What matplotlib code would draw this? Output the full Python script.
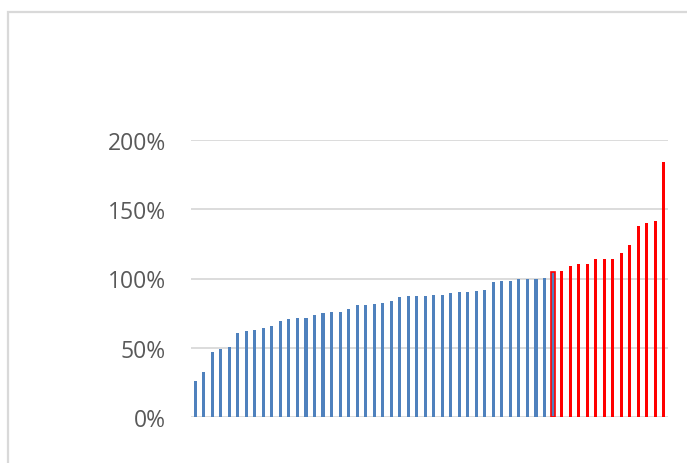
import matplotlib
matplotlib.use("Agg")
import matplotlib.pyplot as plt
from matplotlib.patches import Rectangle
from matplotlib.ticker import FuncFormatter

# Values (fraction of 1 = 100%), sorted ascending
blue_values = [0.257, 0.322, 0.472, 0.488, 0.508, 0.609, 0.621, 0.631, 0.641, 0.655,
               0.695, 0.709, 0.716, 0.716, 0.738, 0.748, 0.755, 0.757, 0.781, 0.807,
               0.812, 0.815, 0.822, 0.834, 0.868, 0.873, 0.873, 0.873, 0.882, 0.882,
               0.897, 0.904, 0.906, 0.909, 0.916, 0.976, 0.983, 0.983, 0.993, 0.998,
               1.000, 1.002]
red_values = [1.044, 1.053, 1.089, 1.104, 1.104, 1.140, 1.140, 1.140, 1.183, 1.241,
              1.378, 1.400, 1.414, 1.841]
y_ticks = [0, 0.5, 1.0, 1.5, 2.0]

BLUE = "#4F81BD"
RED = "#FF0000"

fig = plt.figure(figsize=(6.87, 4.64), dpi=100)
fig.patch.set_facecolor("white")

# chart border (cropped Excel chart area)
fig.patches.append(Rectangle((8 / 687, -0.1), 1.2, (464 - 13) / 464 + 0.1,
                             transform=fig.transFigure, fill=False,
                             edgecolor="#d9d9d9", linewidth=1.6, zorder=0))

ax = fig.add_axes([191 / 687, (464 - 418) / 464, 477 / 687, 277 / 464])

n_blue = len(blue_values)
xb = list(range(n_blue))
xr = list(range(n_blue, n_blue + len(red_values)))

ax.bar(xb, blue_values, width=0.36, color=BLUE, zorder=3)
# first red bar: blue fill with red outline
ax.bar(xr[:1], red_values[:1], width=0.36, color=BLUE, edgecolor=RED,
       linewidth=1.2, zorder=3)
ax.bar(xr[1:], red_values[1:], width=0.36, color=RED, zorder=3)

ax.set_xlim(-0.5, n_blue + len(red_values) - 0.5)
ax.set_ylim(0, 2.0)
ax.set_yticks(y_ticks)
ax.yaxis.set_major_formatter(FuncFormatter(lambda v, p: f"{v * 100:.0f}%"))
ax.grid(axis="y", color="#d9d9d9", linewidth=1.3, zorder=0)
ax.set_xticks([])
for s in ax.spines.values():
    s.set_visible(False)
ax.tick_params(axis="y", length=0, pad=18, labelsize=16.5, labelcolor="#595959")
for lab in ax.get_yticklabels():
    lab.set_fontfamily("Open Sans")

fig.savefig("out.png", dpi=100, facecolor="white")
